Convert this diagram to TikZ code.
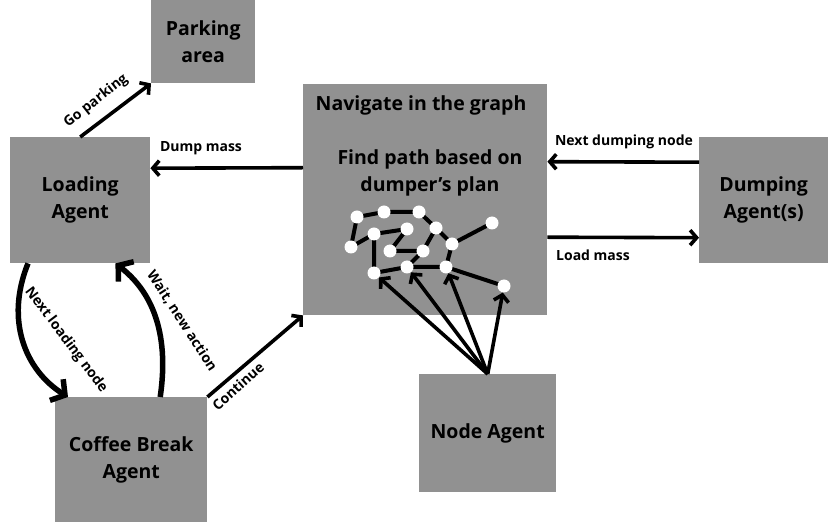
\documentclass[tikz,border=0pt]{standalone}
\usepackage{fontspec}
\setmainfont{Open Sans}
\usetikzlibrary{arrows.meta}
\definecolor{boxgray}{RGB}{145,145,145}
\begin{document}
\begin{tikzpicture}[x=1pt,y=-1pt,
  box/.style={fill=boxgray, inner sep=0, anchor=north west, align=center,
    font=\fontsize{19.5}{27}\selectfont\bfseries},
  title/.style={align=center, inner sep=0, font=\fontsize{19.5}{27}\selectfont\bfseries},
  lbl/.style={inner sep=0, font=\fontsize{14}{16}\selectfont\bfseries},
  arr/.style={line width=3.6pt, -{Straight Barb[length=6.5pt,width=15pt]}},
  bigarr/.style={line width=5.5pt, -{Straight Barb[length=10pt,width=25pt]}},
  gedge/.style={line width=4pt},
  gnode/.style={circle, fill=white, minimum size=13pt, inner sep=0}
]
\useasboundingbox[fill=white] (0,0) rectangle (828,526);

% agent boxes
\node[box, minimum width=104pt, minimum height=83pt]  (park)   at (151,0)   {Parking\\area};
\node[box, minimum width=140pt, minimum height=126pt] (load)   at (10,137)  {Loading\\Agent};
\node[box, minimum width=244pt, minimum height=231pt] (nav)    at (303,84)  {};
\node[box, minimum width=129pt, minimum height=126pt] (dump)   at (699,137) {Dumping\\Agent(s)};
\node[box, minimum width=152pt, minimum height=125pt] (coffee) at (55,397)  {Coffee Break\\Agent};
\node[box, minimum width=137pt, minimum height=118pt] (nodeag) at (419,374) {Node Agent};

\node[title] (navt) at (421,105) {Navigate in the graph};
\node[title] (findt) at (430,173) {Find path based on\\dumper's plan};

% small graph inside the navigation box
\coordinate (c1) at (357,217);
\coordinate (c2) at (384,212);
\coordinate (c3) at (419,212);
\coordinate (c4) at (351,247);
\coordinate (c5) at (374,234);
\coordinate (c6) at (407,229);
\coordinate (c7) at (436,228);
\coordinate (c8) at (492,223);
\coordinate (c9) at (452,244);
\coordinate (c10) at (390,251);
\coordinate (c11) at (423,251);
\coordinate (c12) at (374,273);
\coordinate (c13) at (407,267);
\coordinate (c14) at (446,267);
\coordinate (c15) at (504,286);
\draw[gedge] (c4) -- (c1) -- (c2) -- (c3) -- (c7) -- (c9) -- (c8);
\draw[gedge] (c4) -- (c5) -- (c6) -- (c10) -- (c11) -- (c7);
\draw[gedge] (c5) -- (c12) -- (c13) -- (c11);
\draw[gedge] (c13) -- (c14) -- (c9);
\draw[gedge] (c14) -- (c15);
\foreach \i in {1,...,15} \node[gnode] (g\i) at (c\i) {};

% connectors
\draw[arr] (load.north) -- (park.south west);
\draw[arr] ([yshift=32pt]nav.west) -- ([yshift=32pt]load.east);
\draw[arr] ([yshift=38pt]dump.west) -- ([yshift=38pt]nav.east);
\draw[arr] ([yshift=-37.5pt]nav.east) -- ([yshift=-37.5pt]dump.west);
\draw[arr] (coffee.north east) -- (nav.south west);
\foreach \t in {12,13,14,15} \draw[arr] (nodeag.north) -- (g\t);

\draw[bigarr] ([xshift=18pt]load.south west) .. controls (5,320) and (25,370) .. ([xshift=13pt]coffee.north west);
\draw[bigarr] ([xshift=29pt]coffee.north) .. controls (170,330) and (150,290) .. ([xshift=-35pt]load.south east);

% connector labels
\node[lbl] (l1) at (201,148) {Dump mass};
\node[lbl] (l2) at (624,142) {Next dumping node};
\node[lbl] (l3) at (593,255) {Load mass};
\node[lbl, rotate=38] (l4) at (96,101) {Go parking};
\node[lbl, rotate=42] (l5) at (238,386) {Continue};
\node[lbl, rotate=-53] (l6) at (66,340) {Next loading node};
\node[lbl, rotate=-57] (l7) at (182,321) {Wait, new action};
\end{tikzpicture}
\end{document}
